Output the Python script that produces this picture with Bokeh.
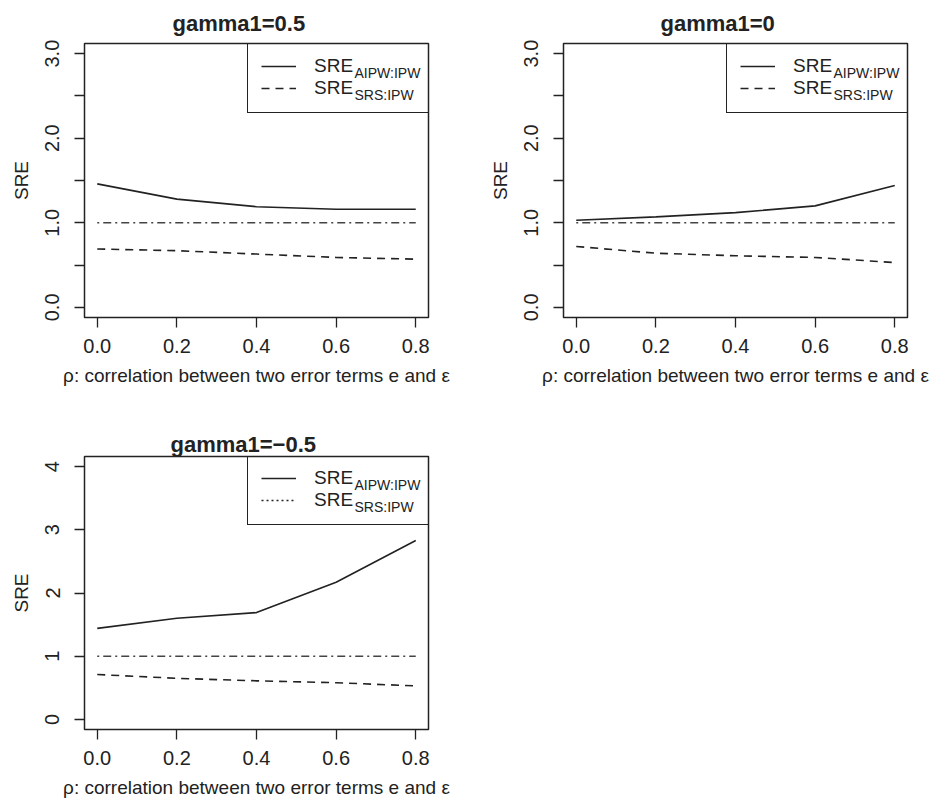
from bokeh.plotting import figure
from bokeh.models import Range1d, FixedTicker, Legend, LegendItem, Label
from bokeh.layouts import column, row
from bokeh.embed import file_html
from bokeh.resources import INLINE

# ---------------- data ----------------
rho = [0.0, 0.2, 0.4, 0.6, 0.8]
x_tick_labels = ["0.0", "0.2", "0.4", "0.6", "0.8"]

aipw_g05 = [1.46, 1.28, 1.19, 1.16, 1.16]
srs_g05 = [0.69, 0.67, 0.63, 0.59, 0.57]

aipw_g0 = [1.03, 1.07, 1.12, 1.20, 1.44]
srs_g0 = [0.72, 0.64, 0.61, 0.59, 0.53]

aipw_gm05 = [1.44, 1.60, 1.69, 2.17, 2.83]
srs_gm05 = [0.71, 0.65, 0.61, 0.58, 0.53]

ref_level = [1.0, 1.0, 1.0, 1.0, 1.0]

titles = ["gamma1=0.5", "gamma1=0", "gamma1=\u22120.5"]
y_ticks_a = [0.0, 0.5, 1.0, 1.5, 2.0, 2.5, 3.0]
y_labels_a = ["0.0", "", "1.0", "", "2.0", "", "3.0"]
y_ticks_b = [0, 1, 2, 3, 4]
y_labels_b = ["0", "1", "2", "3", "4"]
legend_labels = ["SRE", "SRE"]
legend_subs = ["AIPW:IPW", "SRS:IPW"]
x_label = "\u03c1: correlation between two error terms e and \u03b5"
y_label = "SRE"

FONT = "Liberation Sans"
INK = "#222222"
FW, FH = 344, 274


def panel(title, aipw, srs, y_max, y_ticks, y_labels, dotted_legend,
          width, height, bl, bt, title_offset, title_standoff):
    p = figure(width=width, height=height, output_backend="svg", toolbar_location=None,
               x_range=Range1d(-0.04 * 0.8, 0.8 * 1.04), y_range=Range1d(-0.04 * y_max, 1.04 * y_max),
               min_border_left=bl, min_border_top=bt,
               min_border_right=width - bl - FW, min_border_bottom=height - bt - FH,
               title=title)
    p.background_fill_color = "white"
    p.border_fill_color = "white"
    p.outline_line_color = INK
    p.outline_line_width = 1.5
    p.outline_line_alpha = 1.0
    p.xgrid.visible = False
    p.ygrid.visible = False

    p.title.text_font = FONT
    p.title.text_font_size = "22px"
    p.title.text_font_style = "bold"
    p.title.text_color = INK
    p.title.align = "left"
    p.title.offset = title_offset
    p.title.standoff = title_standoff

    p.xaxis.ticker = FixedTicker(ticks=rho)
    p.xaxis.major_label_overrides = {t: l for t, l in zip(rho, x_tick_labels)}
    p.yaxis.ticker = FixedTicker(ticks=y_ticks)
    p.yaxis.major_label_overrides = {t: l for t, l in zip(y_ticks, y_labels)}
    p.yaxis.major_label_orientation = "vertical"
    p.xaxis.axis_label = x_label
    p.yaxis.axis_label = y_label
    for ax in (p.xaxis[0], p.yaxis[0]):
        ax.axis_line_color = None
        ax.major_tick_in = 0
        ax.major_tick_out = 10
        ax.major_tick_line_color = INK
        ax.major_tick_line_width = 1.3
        ax.minor_tick_line_color = None
        ax.major_label_text_font = FONT
        ax.major_label_text_font_size = "20px"
        ax.major_label_text_color = INK
        ax.axis_label_text_font = FONT
        ax.axis_label_text_font_size = "19px"
        ax.axis_label_text_font_style = "normal"
        ax.axis_label_text_color = INK
    p.xaxis.major_label_standoff = 11
    p.xaxis.axis_label_standoff = 9
    p.yaxis.major_label_standoff = 15
    p.yaxis.axis_label_standoff = 11

    r_aipw = p.line(rho, aipw, line_color=INK, line_width=1.6)
    r_srs = p.line(rho, srs, line_color=INK, line_width=1.6, line_dash="8 6")
    p.line(rho, ref_level, line_color="#444444", line_width=1.4, line_dash="2 4 8 4")
    if dotted_legend:
        r_leg2 = p.line(rho, srs, line_color=INK, line_width=1.6, line_dash="2 3", visible=False)
    else:
        r_leg2 = r_srs

    pad, gw, gh, stand, lw = 13, 35, 22, 18, 102
    lx, lh = 163, 70
    ly = FH - lh
    leg = Legend(items=[LegendItem(label=legend_labels[0], renderers=[r_aipw]),
                        LegendItem(label=legend_labels[1], renderers=[r_leg2])],
                 location=(lx, ly), padding=pad, spacing=0, margin=0,
                 glyph_width=gw, glyph_height=gh, label_height=gh, label_width=lw,
                 label_standoff=stand, border_line_color=INK, border_line_width=1.5,
                 border_line_alpha=1.0, background_fill_color="white", background_fill_alpha=0.0,
                 label_text_font=FONT, label_text_font_size="19px", label_text_color=INK)
    p.add_layout(leg)
    sub_x = lx + pad + gw + stand + 41
    for i, s in enumerate(legend_subs):
        p.add_layout(Label(x=sub_x, y=FH - 29 - i * gh, x_units="screen", y_units="screen",
                           text=s, text_font=FONT, text_font_size="14px", text_color=INK,
                           text_baseline="alphabetic", text_align="left", level="overlay"))
    return p


p1 = panel(titles[0], aipw_g05, srs_g05, 3.0, y_ticks_a, y_labels_a, False,
           470, 400, 84, 43, 88, 15)
p2 = panel(titles[1], aipw_g0, srs_g0, 3.0, y_ticks_a, y_labels_a, False,
           464, 400, 93, 43, 97, 15)
p3 = panel(titles[2], aipw_gm05, srs_gm05, 4.0, y_ticks_b, y_labels_b, True,
           470, 400, 84, 56, 86, 0)

layout = column(row(p1, p2), p3)
open("out.html", "w").write(file_html(layout, INLINE))
